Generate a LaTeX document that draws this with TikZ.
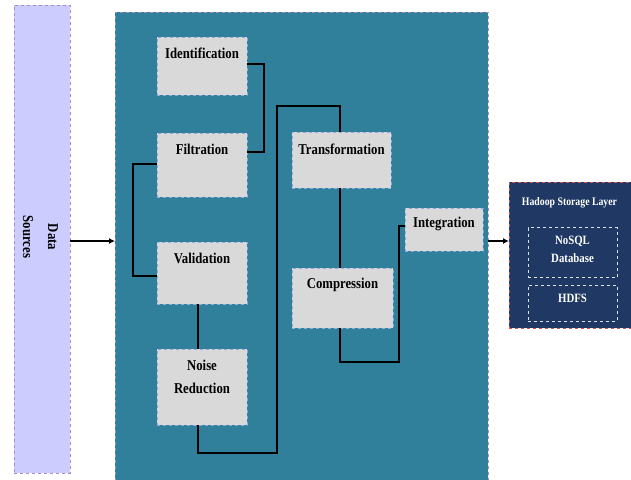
\documentclass[tikz,border=0pt]{standalone}
\usepackage{fontspec}
\setmainfont{Liberation Serif}[FakeStretch=0.85]
\usetikzlibrary{arrows.meta}

\definecolor{srcfill}{HTML}{CCCCFF}
\definecolor{srcline}{HTML}{A98BC8}
\definecolor{teal}{HTML}{31809B}
\definecolor{boxfill}{HTML}{D9D9D9}
\definecolor{boxline}{HTML}{8EA9DB}
\definecolor{navy}{HTML}{1F3864}
\definecolor{redline}{HTML}{D9534F}

\tikzset{
  every node/.style={inner sep=0pt, outer sep=0pt, font=\bfseries},
  area/.style={draw, dashed, anchor=north west, line width=0.8pt},
  stage/.style={area, fill=boxfill, draw=boxline},
  txt/.style={align=center},
  stagetxt/.style={txt, font=\fontsize{15}{23}\bfseries\selectfont},
  conn/.style={draw=black, line width=1.6pt},
  arr/.style={conn, -{Latex[length=6pt,width=6pt]}},
  store/.style={area, draw=white!85!navy, line width=1pt},
  storetxt/.style={txt, text=white, font=\fontsize{12.7}{17.5}\bfseries\selectfont},
}

\begin{document}
\begin{tikzpicture}[x=1pt, y=-1pt]
\useasboundingbox (0,0) rectangle (631,479);

% data sources column
\node[area, fill=srcfill, draw=srcline, minimum width=56, minimum height=468] (src) at (14,5) {};
\node[txt, rotate=-90, font=\fontsize{15}{25}\bfseries\selectfont] (srctxt) at (40.5,237) {Data\\Sources};

% processing area
\node[area, fill=teal, draw=srcline, minimum width=373, minimum height=480] (main) at (115,12) {};

% processing stages
\node[stage, minimum width=90, minimum height=58] (ident) at (157,37) {};
\node[stagetxt] (identtxt) at (202,53) {Identification};

\node[stage, minimum width=90, minimum height=64] (filt) at (157,133) {};
\node[stagetxt] (filttxt) at (202,149) {Filtration};

\node[stage, minimum width=90, minimum height=62] (valid) at (157,242) {};
\node[stagetxt] (validtxt) at (202,258) {Validation};

\node[stage, minimum width=90, minimum height=76] (noise) at (157,349) {};
\node[stagetxt] (noisetxt) at (202,376.5) {Noise\\Reduction};

\node[stage, minimum width=99, minimum height=56] (trans) at (292,132) {};
\node[stagetxt] (transtxt) at (341.5,149) {Transformation};

\node[stage, minimum width=101, minimum height=60] (comp) at (292,268) {};
\node[stagetxt] (comptxt) at (342.5,285) {Compression};

\node[stage, minimum width=78, minimum height=43] (integ) at (405,208) {};
\node[stagetxt] (integtxt) at (444,224) {Integration};

% storage layer
\node[area, fill=navy, draw=redline, minimum width=122, minimum height=146] (hadoop) at (509,182) {};
\node[txt, text=white, font=\fontsize{11.5}{14}\bfseries\selectfont] (hadooptxt) at (569.5,203) {Hadoop Storage Layer};
\node[store, minimum width=89, minimum height=50] (nosql) at (528,227.5) {};
\node[storetxt] (nosqltxt) at (572.5,249.5) {NoSQL\\Database};
\node[store, minimum width=89, minimum height=36] (hdfs) at (528,285) {};
\node[storetxt] (hdfstxt) at (572.5,298) {HDFS};

% connectors between stages
\draw[conn] ([yshift=2pt]ident.east) -- ++(17,0) |- ([yshift=13pt]filt.east);
\draw[conn] ([yshift=1pt]filt.west) -- ++(-24,0) |- ([yshift=-3pt]valid.west);
\draw[conn] ([xshift=-4pt]valid.south) -- ([xshift=-4pt]noise.north);
\draw[conn] ([xshift=-4pt]noise.south) -- ++(0,28) -| (277,106) -| ([xshift=-1.5pt]trans.north);
\draw[conn] ([xshift=-1.5pt]trans.south) -- ([xshift=-2.5pt]comp.north);
\draw[conn] ([xshift=-2.5pt]comp.south) -- ++(0,34) -| ([xshift=-6pt,yshift=3.5pt]integ.west) -- ([yshift=3.5pt]integ.west);

% data flow arrows
\draw[arr] ([yshift=-2pt]src.east) -- ([yshift=-2pt]src.east -| main.west);
\draw[arr] ([yshift=14pt]hadoop.west -| main.east) -- ([yshift=14pt]hadoop.west);
\end{tikzpicture}
\end{document}
